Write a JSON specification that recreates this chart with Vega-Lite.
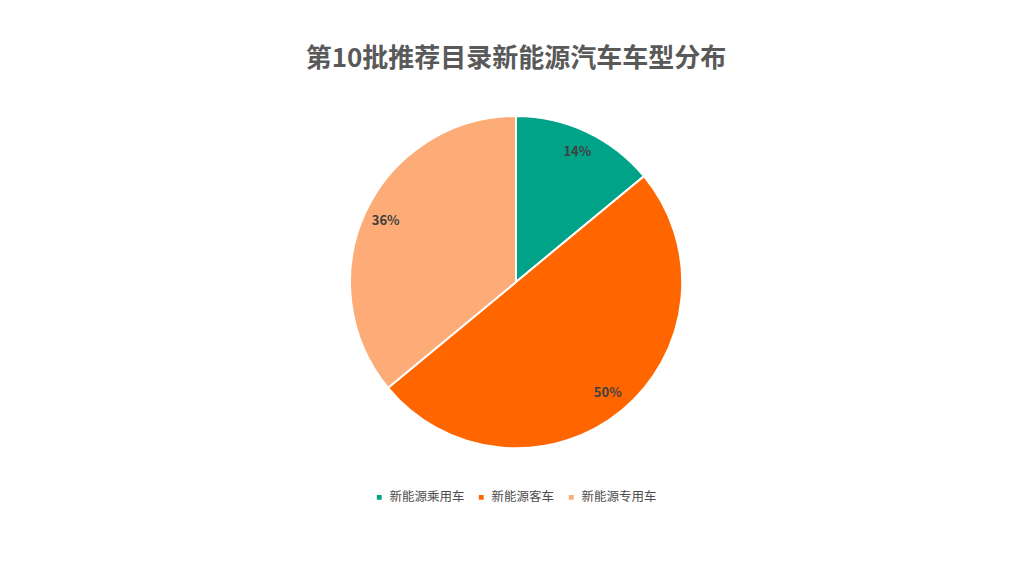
{
  "$schema": "https://vega.github.io/schema/vega-lite/v6.json",
  "autosize": "none",
  "width": 1016,
  "height": 404,
  "padding": {"top": 80, "bottom": 92, "left": 8, "right": 0},
  "background": "white",
  "config": {"view": {"stroke": null}, "font": "Noto Sans CJK SC"},
  "title": {
    "text": "第10批推荐目录新能源汽车车型分布",
    "fontSize": 26,
    "fontWeight": "bold",
    "color": "#595959",
    "font": "Noto Sans CJK SC",
    "anchor": "middle",
    "offset": 8
  },
  "data": {
    "values": [
      {"type": "新能源乘用车", "share": 14, "label": "14%", "idx": 1},
      {"type": "新能源客车", "share": 50, "label": "50%", "idx": 2},
      {"type": "新能源专用车", "share": 36, "label": "36%", "idx": 3}
    ]
  },
  "encoding": {
    "theta": {"field": "share", "type": "quantitative", "stack": true},
    "order": {"field": "idx", "type": "quantitative"},
    "color": {
      "field": "type",
      "type": "nominal",
      "scale": {
        "domain": ["新能源乘用车", "新能源客车", "新能源专用车"],
        "range": ["#00A388", "#FF6600", "#FDAC78"]
      },
      "legend": {
        "title": null,
        "orient": "none",
        "legendX": 365,
        "legendY": 411,
        "direction": "horizontal",
        "symbolType": "square",
        "symbolSize": 40,
        "labelFontSize": 12.5,
        "labelColor": "#4d4d4d",
        "labelFont": "Noto Sans CJK SC",
        "columnPadding": 10
      }
    }
  },
  "layer": [
    {"mark": {"type": "arc", "outerRadius": 166, "stroke": "white", "strokeWidth": 2}},
    {
      "mark": {"type": "text", "radius": 144, "fontSize": 13, "fontWeight": "bold", "color": "#404040", "font": "Noto Sans CJK SC"},
      "encoding": {"text": {"field": "label", "type": "nominal"}, "color": {"value": "#404040"}}
    }
  ]
}
